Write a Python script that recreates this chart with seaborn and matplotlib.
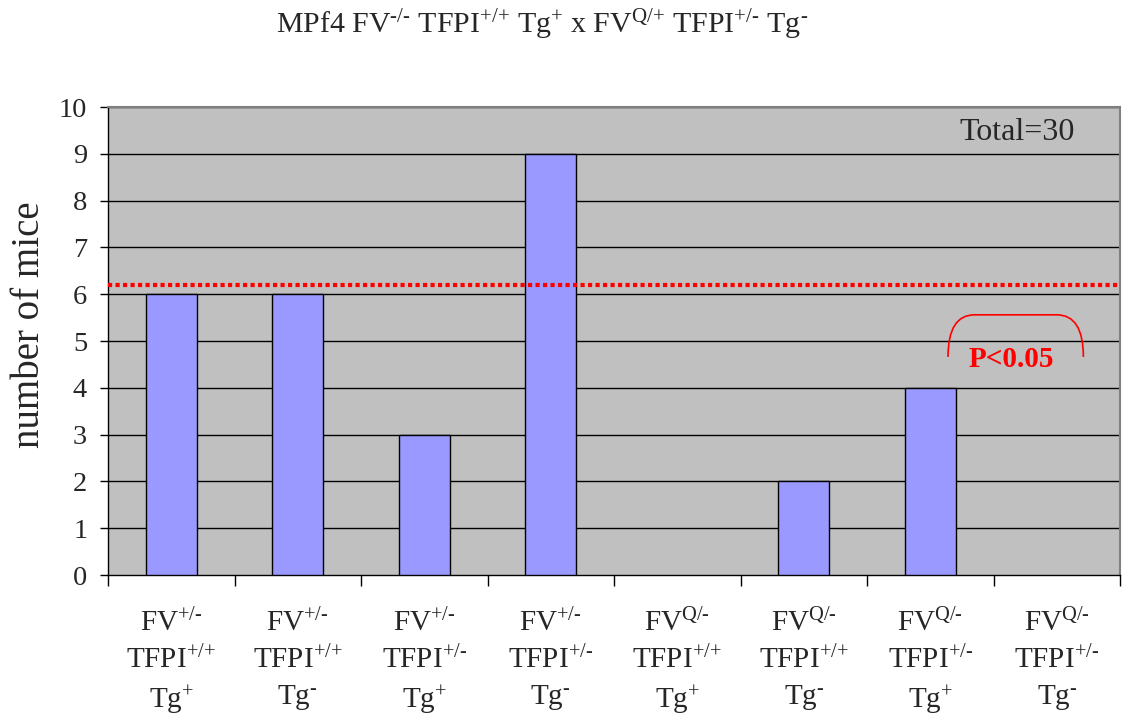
import matplotlib
matplotlib.use('Agg')
import matplotlib.pyplot as plt
import seaborn as sns
from matplotlib.path import Path
from matplotlib.patches import PathPatch

genotypes = ['FV+/- TFPI+/+ Tg+', 'FV+/- TFPI+/+ Tg-', 'FV+/- TFPI+/- Tg+', 'FV+/- TFPI+/- Tg-',
             'FVQ/- TFPI+/+ Tg+', 'FVQ/- TFPI+/+ Tg-', 'FVQ/- TFPI+/- Tg+', 'FVQ/- TFPI+/- Tg-']
mice = [6, 6, 3, 9, 0, 2, 4, 0]
H = '\u2010'  # short hyphen for the superscripts
tick_labels = [
    f'FV$^{{+/{H}}}$\nTFPI$^{{+/{{+}}}}$\nTg$^{{+}}$',
    f'FV$^{{+/{H}}}$\nTFPI$^{{+/{{+}}}}$\nTg$^{{{H}}}$',
    f'FV$^{{+/{H}}}$\nTFPI$^{{+/{H}}}$\nTg$^{{+}}$',
    f'FV$^{{+/{H}}}$\nTFPI$^{{+/{H}}}$\nTg$^{{{H}}}$',
    f'FV$^{{Q/{H}}}$\nTFPI$^{{+/{{+}}}}$\nTg$^{{+}}$',
    f'FV$^{{Q/{H}}}$\nTFPI$^{{+/{{+}}}}$\nTg$^{{{H}}}$',
    f'FV$^{{Q/{H}}}$\nTFPI$^{{+/{H}}}$\nTg$^{{+}}$',
    f'FV$^{{Q/{H}}}$\nTFPI$^{{+/{H}}}$\nTg$^{{{H}}}$',
]
expected = 6.2
total_text = 'Total=30'
p_text = 'P<0.05'
title = (f'MPf4 FV$^{{{H}/{H}}}$ TFPI$^{{+/{{+}}}}$ Tg$^{{+}}$ x '
         f'FV$^{{Q/{{+}}}}$ TFPI$^{{+/{H}}}$ Tg$^{{{H}}}$')

sns.set_style('white')
plt.rcParams['font.family'] = ['Liberation Serif', 'DejaVu Serif']
plt.rcParams['mathtext.fontset'] = 'custom'
plt.rcParams['mathtext.rm'] = 'Liberation Serif'
plt.rcParams['mathtext.it'] = 'Liberation Serif'
plt.rcParams['mathtext.bf'] = 'Liberation Serif:bold'

fig = plt.figure(figsize=(11.24, 7.15), dpi=100)
ax = fig.add_axes([0.0961, 0.1958, 0.9004, 0.6545])
ax.set_facecolor('#C0C0C0')

for v in range(1, 11):
    ax.axhline(v, color='black', linewidth=1, zorder=1)

sns.barplot(x=genotypes, y=mice, color='#9999FF', edgecolor='black',
            linewidth=1, width=0.4, saturation=1, ax=ax, zorder=3)
for bar in ax.patches:
    if bar.get_height() == 0:
        bar.set_linewidth(0)

ax.axhline(expected, color='red', linestyle=(0, (1, 0.8)), linewidth=3, zorder=4)

ax.set_xlim(-0.5, len(genotypes) - 0.5)
ax.set_ylim(0, 10)
ax.set_yticks(range(0, 11))
ax.tick_params(axis='y', direction='out', length=6, width=1, color='black',
               labelsize=20.5, pad=9, left=True)
ax.set_xticks(range(len(genotypes)))
ax.set_xticklabels(tick_labels, fontsize=21, linespacing=1.4)
ax.set_xticks([i - 0.5 for i in range(len(genotypes) + 1)], minor=True)
ax.tick_params(axis='x', which='major', length=0, pad=24)
ax.tick_params(axis='x', which='minor', direction='out', length=8, width=1,
               color='black', bottom=True)
ax.set_xlabel('')
ax.set_ylabel('number of mice', fontsize=28)
ax.yaxis.set_label_coords(-0.059, 0.534)

for side in ['left', 'bottom']:
    ax.spines[side].set_color('black')
    ax.spines[side].set_linewidth(1)
for side in ['top', 'right']:
    ax.spines[side].set_visible(True)
    ax.spines[side].set_color('#808080')
    ax.spines[side].set_linewidth(1.5)

ax.text(6.69, 9.45, total_text, fontsize=23, ha='center', va='center', zorder=5)
ax.text(6.64, 4.6, p_text, fontsize=21, color='red', fontweight='bold',
        ha='center', va='center', zorder=5)

# bracket over the last two groups
verts = [(6.14, 4.66), (6.14, 5.56), (6.35, 5.56), (7.0, 5.56),
         (7.21, 5.56), (7.21, 4.66)]
codes = [Path.MOVETO, Path.CURVE3, Path.CURVE3, Path.LINETO, Path.CURVE3, Path.CURVE3]
ax.add_patch(PathPatch(Path(verts, codes), facecolor='none', edgecolor='red',
                       linewidth=1.2, zorder=5))

fig.text(0.482, 0.966, title, fontsize=21.5, ha='center', va='center')

fig.savefig('out.png', dpi=100)
